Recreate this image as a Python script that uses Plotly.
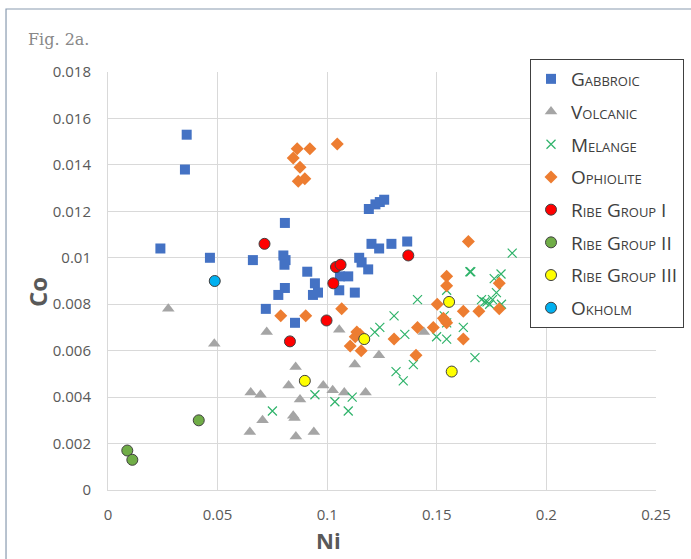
import plotly.graph_objects as go

# Ni / Co concentrations per sample group
gabbroic_ni = [0.0359, 0.0351, 0.0807, 0.0239, 0.0465, 0.0661, 0.0800, 0.0810, 0.0805, 0.0909,
               0.0944, 0.0935, 0.0958, 0.0807, 0.0777, 0.0720, 0.0853, 0.1190, 0.1220, 0.1240,
               0.1260, 0.1202, 0.1237, 0.1293, 0.1365, 0.1146, 0.1157, 0.1187, 0.1058, 0.1096,
               0.1055, 0.1126]
gabbroic_co = [0.0153, 0.0138, 0.0115, 0.0104, 0.0100, 0.0099, 0.0101, 0.0099, 0.0097, 0.0094,
               0.0089, 0.0084, 0.0085, 0.0087, 0.0084, 0.0078, 0.0072, 0.0121, 0.0123, 0.0124,
               0.0125, 0.0106, 0.0104, 0.0106, 0.0107, 0.0100, 0.0098, 0.0095, 0.0092, 0.0092,
               0.0086, 0.0085]

volcanic_ni = [0.0275, 0.0724, 0.0485, 0.0856, 0.0824, 0.0651, 0.0696, 0.0876, 0.0705, 0.0845,
               0.0851, 0.0647, 0.0857, 0.0939, 0.1055, 0.1441, 0.1236, 0.1126, 0.0982, 0.1025,
               0.1078, 0.1175]
volcanic_co = [0.0078, 0.0068, 0.0063, 0.0053, 0.0045, 0.0042, 0.0041, 0.0039, 0.0030, 0.0032,
               0.0031, 0.0025, 0.0023, 0.0025, 0.0069, 0.0068, 0.0058, 0.0054, 0.0045, 0.0043,
               0.0042, 0.0042]

melange_ni = [0.1844, 0.1651, 0.1655, 0.1762, 0.1793, 0.1545, 0.1772, 0.1754, 0.1704, 0.1729,
              0.1741, 0.1719, 0.1795, 0.1412, 0.1305, 0.1240, 0.1217, 0.1354, 0.1534, 0.1545,
              0.1499, 0.1545, 0.1621, 0.1674, 0.1393, 0.1314, 0.1347, 0.0944, 0.1035, 0.1114,
              0.1096, 0.0750]
melange_co = [0.0102, 0.0094, 0.0094, 0.0091, 0.0093, 0.0086, 0.0085, 0.0082, 0.0082, 0.0081,
              0.0080, 0.0081, 0.0080, 0.0082, 0.0075, 0.0070, 0.0068, 0.0067, 0.0075, 0.0072,
              0.0066, 0.0065, 0.0070, 0.0057, 0.0054, 0.0051, 0.0047, 0.0041, 0.0038, 0.0040,
              0.0034, 0.0034]

ophiolite_ni = [0.0863, 0.0921, 0.0845, 0.0876, 0.0868, 0.0898, 0.1046, 0.0788, 0.0902, 0.1066,
                0.1644, 0.1545, 0.1545, 0.1785, 0.1502, 0.1621, 0.1692, 0.1785, 0.1530, 0.1545,
                0.1538, 0.1484, 0.1412, 0.1621, 0.1305, 0.1135, 0.1128, 0.1150, 0.1105, 0.1155,
                0.1405]
ophiolite_co = [0.0147, 0.0147, 0.0143, 0.0139, 0.0133, 0.0134, 0.0149, 0.0075, 0.0075, 0.0078,
                0.0107, 0.0092, 0.0088, 0.0089, 0.0080, 0.0077, 0.0077, 0.0078, 0.0074, 0.0072,
                0.0073, 0.0070, 0.0070, 0.0065, 0.0065, 0.0068, 0.0066, 0.0067, 0.0062, 0.0060,
                0.0058]

ribe1_ni = [0.0714, 0.0830, 0.1040, 0.1061, 0.1028, 0.0997, 0.1370]
ribe1_co = [0.0106, 0.0064, 0.0096, 0.0097, 0.0089, 0.0073, 0.0101]

ribe2_ni = [0.0088, 0.0111, 0.0414]
ribe2_co = [0.0017, 0.0013, 0.0030]

ribe3_ni = [0.1556, 0.1169, 0.1568, 0.0898]
ribe3_co = [0.0081, 0.0065, 0.0051, 0.0047]

okholm_ni = [0.0487]
okholm_co = [0.0090]

x_ticks = [0, 0.05, 0.1, 0.15, 0.2, 0.25]
x_labels = ["0", "0.05", "0.1", "0.15", "0.2", "0.25"]
y_ticks = [0, 0.002, 0.004, 0.006, 0.008, 0.01, 0.012, 0.014, 0.016, 0.018]
y_labels = ["0", "0.002", "0.004", "0.006", "0.008", "0.01", "0.012", "0.014", "0.016", "0.018"]

series = [
    ("Gabbroic", gabbroic_ni, gabbroic_co, dict(symbol="square", size=10, color="#4472C4")),
    ("Volcanic", volcanic_ni, volcanic_co, dict(symbol="triangle-up", size=11, color="#A5A5A5")),
    ("Melange", melange_ni, melange_co,
     dict(symbol="x-thin", size=9, color="#2FB36A", line=dict(color="#2FB36A", width=1.2))),
    ("Ophiolite", ophiolite_ni, ophiolite_co, dict(symbol="diamond", size=10, color="#ED7D31")),
    ("Ribe Group I", ribe1_ni, ribe1_co,
     dict(symbol="circle", size=11, color="#FF0000", line=dict(color="#404040", width=1))),
    ("Ribe Group II", ribe2_ni, ribe2_co,
     dict(symbol="circle", size=11, color="#70AD47", line=dict(color="#404040", width=1))),
    ("Ribe Group III", ribe3_ni, ribe3_co,
     dict(symbol="circle", size=11, color="#FFFF00", line=dict(color="#404040", width=1))),
    ("Okholm", okholm_ni, okholm_co,
     dict(symbol="circle", size=11, color="#00B0F0", line=dict(color="#404040", width=1))),
]

fig = go.Figure()
for name, xs, ys, marker in series:
    fig.add_trace(go.Scatter(x=xs, y=ys, mode="markers", name=name, legendgroup=name,
                             marker=marker))

tick_font = dict(family="Open Sans, sans-serif", size=15, color="#595959")
grid = "#D9D9D9"

fig.update_xaxes(range=[0, 0.25], tickvals=x_ticks, ticktext=x_labels, showgrid=True,
                 gridcolor=grid, gridwidth=1, showline=True, linecolor=grid, zeroline=False,
                 tickfont=tick_font, ticks="", ticklabelstandoff=11, fixedrange=True)
fig.update_yaxes(range=[0, 0.018], tickvals=y_ticks, ticktext=y_labels, showgrid=True,
                 gridcolor=grid, gridwidth=1, showline=True, linecolor=grid, zeroline=False,
                 tickfont=tick_font, ticks="", ticklabelstandoff=13, fixedrange=True)

fig.update_layout(
    width=691, height=559,
    margin=dict(l=108, r=35, t=72, b=69, autoexpand=False),
    paper_bgcolor="white", plot_bgcolor="white",
    showlegend=True,
    legend=dict(x=0.7701, y=1.0311, xanchor="left", yanchor="top",
                bgcolor="white", bordercolor="#404040", borderwidth=1,
                font=dict(family="Open Sans, sans-serif", size=19, color="#404040",
                          variant="small-caps"),
                traceorder="grouped", tracegroupgap=5, itemsizing="trace"),
    shapes=[dict(type="rect", xref="paper", yref="paper", x0=-0.1861, x1=1.08,
                 y0=-0.2, y1=1.1507, line=dict(color="#8A9BB0", width=1.2), layer="below")],
    annotations=[
        dict(text="Fig. 2a.", xref="paper", yref="paper", x=-0.1497, y=1.0766,
             xanchor="left", yanchor="middle", showarrow=False,
             font=dict(family="DejaVu Serif, serif", size=16, color="#888888")),
        dict(text="<b>Co</b>", xref="paper", yref="paper", x=-0.1277, y=0.4737,
             xanchor="center", yanchor="middle", showarrow=False, textangle=-90,
             font=dict(family="Open Sans, sans-serif", size=24, color="#595959")),
        dict(text="<b>Ni</b>", xref="paper", yref="paper", x=0.4015, y=-0.1196,
             xanchor="center", yanchor="middle", showarrow=False,
             font=dict(family="Open Sans, sans-serif", size=22, color="#595959")),
    ],
)

fig.write_html("out.html")
